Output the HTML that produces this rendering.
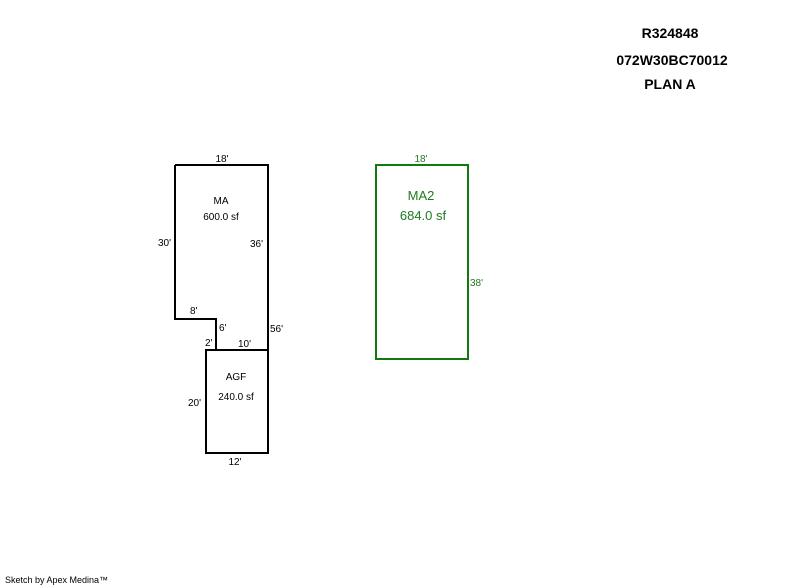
<!DOCTYPE html>
<html><head><style>
body{margin:0;width:800px;height:587px;background:#fff;position:relative;overflow:hidden;font-family:"Liberation Sans",Arial,sans-serif}
</style></head><body>
<svg width="800" height="587" style="position:absolute;left:0;top:0" font-family="Liberation Sans, Arial, sans-serif">
<text x="670" y="38" font-size="14" font-weight="bold" text-anchor="middle">R324848</text>
<text x="672" y="65" font-size="14" font-weight="bold" text-anchor="middle">072W30BC70012</text>
<text x="670" y="89" font-size="14" font-weight="bold" text-anchor="middle">PLAN A</text>
<g fill="none" stroke="#000" stroke-width="2">
<polyline points="175,165 268,165 268,453 206,453 206,350 216,350 216,319 175,319 175,165"/>
<line x1="206" y1="350" x2="268" y2="350"/>
</g>
<rect x="376" y="165" width="92" height="194" fill="none" stroke="#107a10" stroke-width="2"/>
<g font-size="10" fill="#000">
<text x="222" y="162" text-anchor="middle">18'</text>
<text x="221" y="204" text-anchor="middle">MA</text>
<text x="221" y="220" text-anchor="middle">600.0 sf</text>
<text x="158" y="246">30'</text>
<text x="250" y="247">36'</text>
<text x="190" y="314">8'</text>
<text x="219" y="331">6'</text>
<text x="270" y="332">56'</text>
<text x="205" y="346">2'</text>
<text x="238" y="347">10'</text>
<text x="236" y="380" text-anchor="middle">AGF</text>
<text x="236" y="400" text-anchor="middle">240.0 sf</text>
<text x="188" y="406">20'</text>
<text x="235" y="465" text-anchor="middle">12'</text>
</g>
<g fill="#1f7a1f">
<text x="421" y="162" font-size="10" text-anchor="middle">18'</text>
<text x="421" y="200" font-size="13" text-anchor="middle">MA2</text>
<text x="423" y="220" font-size="13" text-anchor="middle">684.0 sf</text>
<text x="470" y="286" font-size="10">38'</text>
</g>
<text x="5" y="583" font-size="9">Sketch by Apex Medina™</text>
</svg>
</body></html>
